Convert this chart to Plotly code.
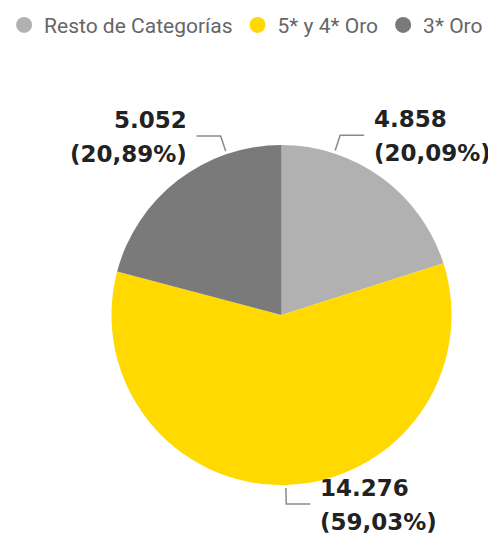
import math
import plotly.graph_objects as go

categorias = ["Resto de Categorías", "5* y 4* Oro", "3* Oro"]
valores = [4858, 14276, 5052]
colores = ["#b1b1b1", "#ffd900", "#7a7a7a"]

# the page puts the figure 8px in from the top-left corner
OFF = 8
W, H = 496 - OFF, 540 - OFF
CX, CY, R = 281.5 - OFF, 315 - OFF, 170


def paper(x, y):
    return x / W, 1 - y / H


def fmt_miles(v):
    return f"{v:,}".replace(",", ".")


def fmt_pct(p):
    return f"({p:.2f}%)".replace(".", ",")


fig = go.Figure()
fig.add_trace(go.Pie(
    labels=categorias, values=valores, sort=False, direction="clockwise", rotation=0,
    marker=dict(colors=colores, line=dict(width=0)),
    textinfo="none", hoverinfo="label+value+percent", showlegend=False,
    domain=dict(x=[(CX - R) / W, (CX + R) / W], y=[1 - (CY + R) / H, 1 - (CY - R) / H]),
))
# circle markers for the legend
for nombre, color in zip(categorias, colores):
    fig.add_trace(go.Scatter(x=[None], y=[None], mode="markers", name=nombre,
                             marker=dict(symbol="circle", size=19, color=color)))

total = sum(valores)
acum = 0
shapes = []
annotations = []
for v in valores:
    mid = (acum + v / 2) / total * 360
    acum += v
    if math.cos(math.radians(mid)) > 0:  # upper half: pull leader toward the top
        ang = mid / 2 if mid < 180 else (mid + 360) / 2
    else:
        ang = mid
    s, c = math.sin(math.radians(ang)), math.cos(math.radians(ang))
    x0, y0 = CX + (R + 3) * s, CY - (R + 3) * c
    x1, y1 = CX + (R + 19) * s, CY - (R + 19) * c
    lado = 1 if s >= 0 else -1
    x2 = x1 + 24 * lado
    p = [paper(x0, y0), paper(x1, y1), paper(x2, y1)]
    shapes.append(dict(type="path", xref="paper", yref="paper",
                       path="M {} {} L {} {} L {} {}".format(*p[0], *p[1], *p[2]),
                       line=dict(color="#8a8a8a", width=1.5)))
    xt = x2 + 8 * lado
    for texto, dy in [(fmt_miles(v), -16), (fmt_pct(v / total * 100), 18)]:
        ax, ay = paper(xt, y1 + dy)
        annotations.append(dict(x=ax, y=ay, xref="paper", yref="paper", text=texto, showarrow=False,
                                xanchor="left" if lado > 0 else "right", yanchor="middle",
                                font=dict(family="DejaVu Sans", size=23, color="#222222")))

fig.update_layout(
    width=W, height=H, margin=dict(l=0, r=0, t=0, b=0, autoexpand=False),
    paper_bgcolor="white", plot_bgcolor="white",
    xaxis=dict(visible=False), yaxis=dict(visible=False),
    showlegend=True,
    legend=dict(orientation="h", x=-0.008, xanchor="left", y=1.006, yanchor="top",
                font=dict(family="Roboto", size=21, color="#666666"),
                itemclick=False, itemdoubleclick=False, tracegroupgap=0),
    shapes=shapes, annotations=annotations,
)
fig.update_annotations(font_weight="bold")

fig.write_html("out.html")
